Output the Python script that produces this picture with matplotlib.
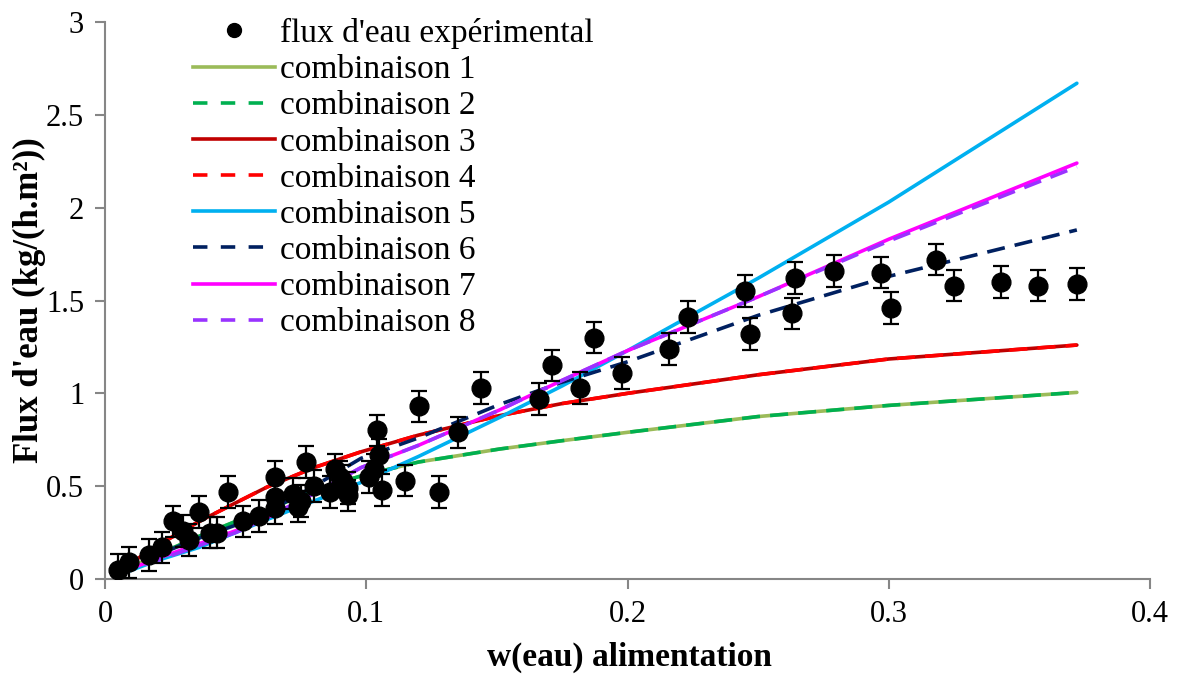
import matplotlib
matplotlib.use("Agg")
import matplotlib.pyplot as plt
from matplotlib.lines import Line2D

# --- experimental water flux ---
x_exp = [0.005, 0.009, 0.017, 0.022, 0.026, 0.030, 0.032, 0.036, 0.040, 0.043,
         0.047, 0.053, 0.059, 0.065, 0.065, 0.065, 0.072, 0.074, 0.075, 0.077,
         0.080, 0.086, 0.088, 0.090, 0.091, 0.093, 0.093, 0.101, 0.103, 0.104,
         0.105, 0.106, 0.115, 0.120, 0.128, 0.135, 0.144, 0.166, 0.171, 0.182,
         0.187, 0.198, 0.216, 0.223, 0.245, 0.247, 0.263, 0.264, 0.279, 0.297,
         0.301, 0.318, 0.325, 0.343, 0.357, 0.372]
y_exp = [0.05, 0.09, 0.13, 0.17, 0.31, 0.26, 0.21, 0.36, 0.25, 0.25,
         0.47, 0.31, 0.34, 0.55, 0.44, 0.38, 0.46, 0.39, 0.42, 0.63,
         0.50, 0.47, 0.59, 0.55, 0.53, 0.49, 0.45, 0.55, 0.59, 0.80,
         0.67, 0.48, 0.53, 0.93, 0.47, 0.79, 1.03, 0.97, 1.15, 1.03,
         1.30, 1.11, 1.24, 1.41, 1.55, 1.32, 1.43, 1.62, 1.66, 1.65,
         1.46, 1.72, 1.58, 1.60, 1.58, 1.59]
err_exp = 0.085

# --- model combinations ---
x_mod = [0.005, 0.02, 0.036, 0.05, 0.062, 0.08, 0.098, 0.12, 0.151, 0.175, 0.2, 0.25, 0.3, 0.372]
comb1 = [0.03, 0.13, 0.23, 0.31, 0.37, 0.48, 0.555, 0.63, 0.70, 0.745, 0.79, 0.875, 0.935, 1.005]
comb2 = [0.03, 0.13, 0.23, 0.31, 0.37, 0.48, 0.555, 0.63, 0.70, 0.745, 0.79, 0.875, 0.935, 1.005]
comb3 = [0.04, 0.18, 0.31, 0.41, 0.495, 0.60, 0.685, 0.775, 0.88, 0.945, 1.00, 1.10, 1.185, 1.26]
comb4 = [0.04, 0.18, 0.31, 0.41, 0.495, 0.60, 0.685, 0.775, 0.88, 0.945, 1.00, 1.10, 1.185, 1.26]
comb5 = [0.02, 0.10, 0.17, 0.25, 0.32, 0.42, 0.52, 0.66, 0.87, 1.04, 1.23, 1.62, 2.03, 2.67]
comb6 = [0.03, 0.13, 0.22, 0.29, 0.36, 0.50, 0.65, 0.76, 0.94, 1.06, 1.17, 1.42, 1.63, 1.88]
comb7 = [0.03, 0.11, 0.19, 0.26, 0.33, 0.46, 0.60, 0.72, 0.91, 1.07, 1.23, 1.52, 1.83, 2.24]
comb8 = [0.03, 0.10, 0.18, 0.25, 0.33, 0.46, 0.60, 0.72, 0.91, 1.07, 1.23, 1.52, 1.82, 2.22]

series = [
    ("combinaison 1", comb1, "#9BBB59", "-"),
    ("combinaison 2", comb2, "#00B050", "--"),
    ("combinaison 3", comb3, "#C00000", "-"),
    ("combinaison 4", comb4, "#FF0000", "--"),
    ("combinaison 5", comb5, "#00B0F0", "-"),
    ("combinaison 6", comb6, "#002060", "--"),
    ("combinaison 7", comb7, "#FF00FF", "-"),
    ("combinaison 8", comb8, "#9933FF", "--"),
]

plt.rcParams["font.family"] = ["Liberation Serif", "DejaVu Serif"]

fig = plt.figure(figsize=(11.81, 6.77), dpi=100)
ax = fig.add_axes([105 / 1181, 1 - 579 / 677, 1045 / 1181, 557 / 677])

handles = []
for label, ys, color, ls in series:
    line, = ax.plot(x_mod, ys, color=color, lw=2.6, solid_capstyle="round", zorder=2)
    if ls == "--":
        line.set_dashes((5, 2.8))
    h = Line2D([], [], color=color, lw=2.6, label=label)
    if ls == "--":
        h.set_dashes((4, 3.7))
    handles.append(h)

ax.errorbar(x_exp, y_exp, yerr=err_exp, fmt="o", color="black", ms=13.5,
            ecolor="black", elinewidth=1.6, capsize=6, capthick=1.6, zorder=3)

exp_handle = Line2D([], [], ls="none", marker="o", color="black", ms=10,
                    label="flux d'eau expérimental")

ax.set_xlim(0, 0.4)
ax.set_ylim(0, 3)
ax.set_xticks([0, 0.1, 0.2, 0.3, 0.4])
ax.set_xticklabels(["0", "0.1", "0.2", "0.3", "0.4"])
ax.set_yticks([0, 0.5, 1, 1.5, 2, 2.5, 3])
ax.set_yticklabels(["0", "0.5", "1", "1.5", "2", "2.5", "3"])
for s in ["top", "right"]:
    ax.spines[s].set_visible(False)
for s in ["left", "bottom"]:
    ax.spines[s].set_color("#868686")
    ax.spines[s].set_linewidth(1.5)
ax.tick_params(direction="out", length=7, width=1.5, color="#868686",
               labelsize=22, pad=8)

ax.set_xlabel("w(eau) alimentation", fontsize=24, fontweight="bold")
ax.set_ylabel("Flux d'eau (kg/(h.m²))", fontsize=25, fontweight="bold")
ax.xaxis.set_label_coords(0.502, -0.112)
ax.yaxis.set_label_coords(-0.056, 0.5)

fig.legend(handles=[exp_handle] + handles, loc="upper left",
           bbox_to_anchor=(193 / 1181, 1 - 18 / 677), frameon=False,
           fontsize=24, handlelength=2.45, handletextpad=0.17,
           labelspacing=0.17, borderpad=0, borderaxespad=0)

fig.savefig("out.png", dpi=100)
